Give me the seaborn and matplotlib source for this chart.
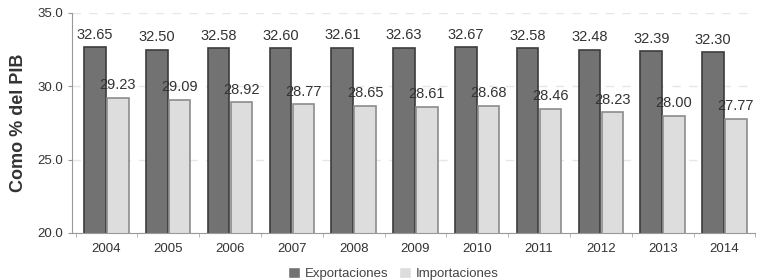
import pandas as pd
import matplotlib
matplotlib.use("Agg")
import matplotlib.pyplot as plt
import seaborn as sns

# Data
years = ["2004", "2005", "2006", "2007", "2008", "2009", "2010", "2011", "2012", "2013", "2014"]
exportaciones = [32.65, 32.50, 32.58, 32.60, 32.61, 32.63, 32.67, 32.58, 32.48, 32.39, 32.30]
importaciones = [29.23, 29.09, 28.92, 28.77, 28.65, 28.61, 28.68, 28.46, 28.23, 28.00, 27.77]
series = ["Exportaciones", "Importaciones"]

df = pd.DataFrame({
    "year": years * 2,
    "value": exportaciones + importaciones,
    "serie": [series[0]] * len(years) + [series[1]] * len(years),
})

sns.set_style("white")
plt.rcParams['font.family'] = ['Liberation Sans', 'DejaVu Sans']

fig = plt.figure(figsize=(7.63, 2.8), dpi=100)
ax = fig.add_axes([0.095, 0.168, 0.895, 0.786])

palette = {"Exportaciones": "#727272", "Importaciones": "#dddddd"}
sns.barplot(data=df, x="year", y="value", hue="serie", palette=palette,
            width=0.74, gap=0.06, ax=ax, saturation=1)

# Bar edges and value labels
edges = ["#3c3c3c", "#8c8c8c"]
for cont, ec in zip(ax.containers, edges):
    for bar in cont:
        bar.set_edgecolor(ec)
        bar.set_linewidth(1.2)
    ax.bar_label(cont, fmt="%.2f", padding=4, fontsize=10.5, color="#333333")

ax.set_ylim(20, 35)
ax.set_yticks([20, 25, 30, 35])
ax.set_yticklabels(["20.0", "25.0", "30.0", "35.0"], fontsize=9.5, color="#333333")
ax.set_xlim(-0.55, 10.5)
ax.set_xticks([i + 0.5 for i in range(-1, 11)], minor=True)
ax.tick_params(axis="x", which="major", labelsize=9.5, colors="#333333", length=0, pad=7)
ax.tick_params(axis="x", which="minor", length=3, color="#aaaaaa", bottom=True)
ax.tick_params(axis="y", length=3, color="#999999", left=True)
ax.set_xlabel("")
ax.set_ylabel("Como % del PIB", fontsize=13, fontweight="bold", color="#333333", labelpad=8)

ax.yaxis.grid(True, linestyle=(0, (6, 6)), color="#e6e6e6", linewidth=1)
ax.set_axisbelow(True)

sns.despine(ax=ax, top=True, right=True)
ax.spines["left"].set_color("#999999")
ax.spines["bottom"].set_color("#999999")

leg = ax.legend(loc="upper center", bbox_to_anchor=(0.47, -0.1), ncol=2, frameon=False,
                fontsize=9.5, handlelength=0.9, handleheight=0.9, columnspacing=0.8,
                handletextpad=0.4)
for t in leg.get_texts():
    t.set_color("#444444")

fig.savefig("out.png", dpi=100)
